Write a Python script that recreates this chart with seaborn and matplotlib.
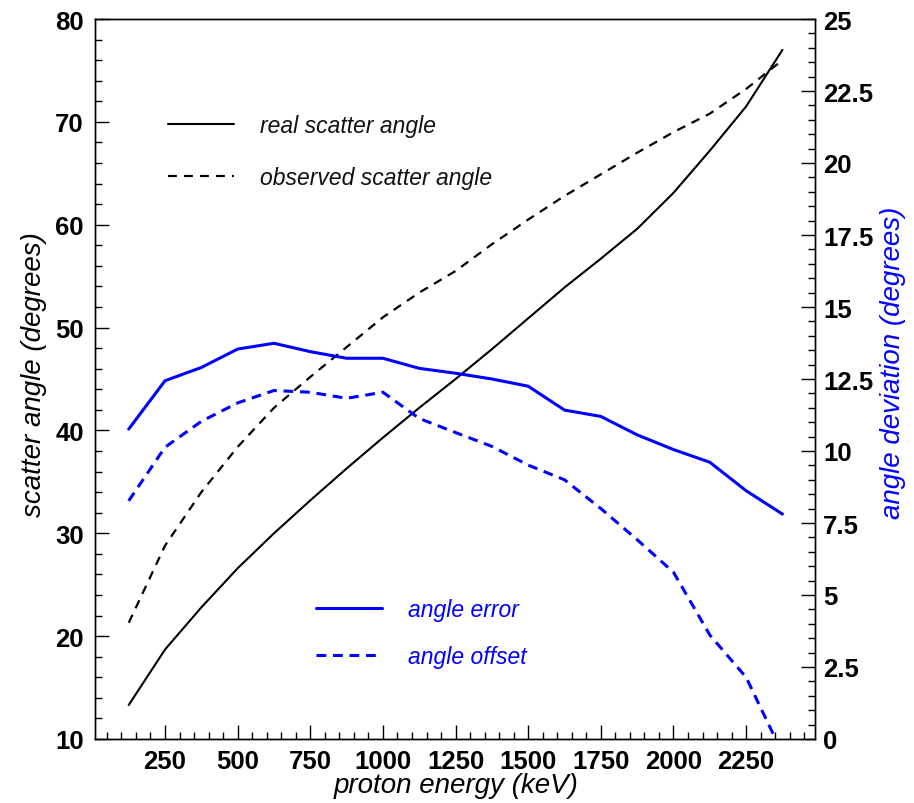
import numpy as np
import pandas as pd
import matplotlib
matplotlib.use("Agg")
import matplotlib.pyplot as plt
import seaborn as sns
from matplotlib.ticker import FixedLocator, MultipleLocator

# ---------------- data ----------------
energy = [125, 250, 375, 500, 625, 750, 875, 1000, 1125, 1250, 1375, 1500,
          1625, 1750, 1875, 2000, 2125, 2250, 2375]
real_angle = [13.3, 18.7, 22.8, 26.6, 30.0, 33.2, 36.3, 39.3, 42.2, 45.0, 47.9, 50.9,
              53.9, 56.7, 59.6, 63.1, 67.2, 71.5, 77.0]
observed_angle = [21.3, 28.8, 34.0, 38.4, 42.2, 45.2, 48.1, 51.0, 53.4, 55.5, 58.1, 60.5,
                  62.8, 64.9, 67.0, 69.0, 70.8, 73.2, 76.0]
angle_error = [10.76, 12.44, 12.9, 13.54, 13.74, 13.45, 13.22, 13.22, 12.87, 12.7, 12.5, 12.25,
               11.42, 11.2, 10.56, 10.05, 9.61, 8.62, 7.81]
angle_offset = [8.27, 10.13, 11.03, 11.67, 12.1, 12.04, 11.83, 12.04, 11.13, 10.64, 10.16, 9.51,
                9.0, 8.0, 6.92, 5.79, 3.61, 2.14, -0.5]

x_ticks = [250, 500, 750, 1000, 1250, 1500, 1750, 2000, 2250]
x_tick_labels = ["250", "500", "750", "1000", "1250", "1500", "1750", "2000", "2250"]
left_ticks = [10, 20, 30, 40, 50, 60, 70, 80]
left_tick_labels = ["10", "20", "30", "40", "50", "60", "70", "80"]
right_ticks = [0, 2.5, 5, 7.5, 10, 12.5, 15, 17.5, 20, 22.5, 25]
right_tick_labels = ["0", "2.5", "5", "7.5", "10", "12.5", "15", "17.5", "20", "22.5", "25"]

df = pd.DataFrame({"energy": energy, "real": real_angle, "observed": observed_angle,
                   "error": angle_error, "offset": angle_offset})

# ---------------- style ----------------
sns.set_theme(style="white")
plt.rcParams["font.family"] = ["Liberation Sans", "DejaVu Sans"]
BLUE = "#0000ff"

fig = plt.figure(figsize=(9.14, 8.04), dpi=100)
ax = fig.add_axes([95 / 914, 1 - 740 / 804, (815 - 95) / 914, (740 - 20) / 804])
ax2 = ax.twinx()

# black curves (left axis)
sns.lineplot(data=df, x="energy", y="real", ax=ax, color="black", linewidth=1.5,
             legend=False, label="real scatter angle")
sns.lineplot(data=df, x="energy", y="observed", ax=ax, color="black", linewidth=1.6,
             legend=False, label="observed scatter angle")
ax.lines[1].set_dashes((4.0, 3.2))

# blue curves (right axis)
sns.lineplot(data=df, x="energy", y="error", ax=ax2, color=BLUE, linewidth=2.2,
             legend=False, label="angle error")
sns.lineplot(data=df, x="energy", y="offset", ax=ax2, color=BLUE, linewidth=2.2,
             legend=False, label="angle offset")
ax2.lines[1].set_dashes((3.2, 2.2))

ax.set_xlim(9, 2487)
ax.set_ylim(10, 80)
ax2.set_ylim(0, 25)

for a in (ax, ax2):
    a.set_xlabel("")
    a.set_ylabel("")
    a.grid(False)
    for s in a.spines.values():
        s.set_color("black")
        s.set_linewidth(1.0)

tick_font = dict(family="Liberation Sans", weight="bold", size=18.5)

ax.xaxis.set_major_locator(FixedLocator(x_ticks))
ax.set_xticklabels(x_tick_labels, fontdict=tick_font)
ax.xaxis.set_minor_locator(MultipleLocator(50))
ax.yaxis.set_major_locator(FixedLocator(left_ticks))
ax.set_yticklabels(left_tick_labels, fontdict=tick_font)
ax.yaxis.set_minor_locator(MultipleLocator(2))
ax2.yaxis.set_major_locator(FixedLocator(right_ticks))
ax2.set_yticklabels(right_tick_labels, fontdict=tick_font)
ax2.yaxis.set_minor_locator(MultipleLocator(0.5))

ax.tick_params(axis="x", which="both", direction="in", bottom=True, top=False, pad=7, colors="black")
ax.tick_params(axis="y", which="both", direction="in", left=True, right=False, pad=8, colors="black")
ax2.tick_params(axis="y", which="both", direction="in", left=False, right=True, pad=6, colors="black")
for a in (ax, ax2):
    a.tick_params(which="major", length=10, width=1.0)
    a.tick_params(which="minor", length=5, width=1.0)

# axis titles
title_font = dict(family="Liberation Sans", style="italic", size=20)
fig.text(456 / 914, 1 - 786 / 804, "proton energy (keV)", ha="center", va="center",
         color="black", **title_font)
fig.text(34 / 914, 1 - 375 / 804, "scatter angle (degrees)", ha="center", va="center",
         rotation=90, color="black", **title_font)
fig.text(893 / 914, 1 - 363 / 804, "angle deviation (degrees)", ha="center", va="center",
         rotation=90, color=BLUE, **title_font)

# legends
leg_font = dict(family="Liberation Sans", style="italic", size=16.5)
leg1 = ax.legend(handles=ax.lines[:2], loc="upper left",
                 bbox_to_anchor=(168 / 914, 1 - 115 / 804), bbox_transform=fig.transFigure,
                 frameon=False, prop=leg_font, handlelength=2.9, handletextpad=1.1,
                 labelspacing=1.28, borderpad=0, borderaxespad=0)
for t in leg1.get_texts():
    t.set_color("#111111")
leg2 = ax2.legend(handles=ax2.lines[:2], loc="upper left",
                  bbox_to_anchor=(316 / 914, 1 - 599 / 804), bbox_transform=fig.transFigure,
                  frameon=False, prop=leg_font, handlelength=2.9, handletextpad=1.1,
                  labelspacing=1.03, borderpad=0, borderaxespad=0)
for t in leg2.get_texts():
    t.set_color(BLUE)

fig.savefig("out.png", dpi=100, facecolor="white")
